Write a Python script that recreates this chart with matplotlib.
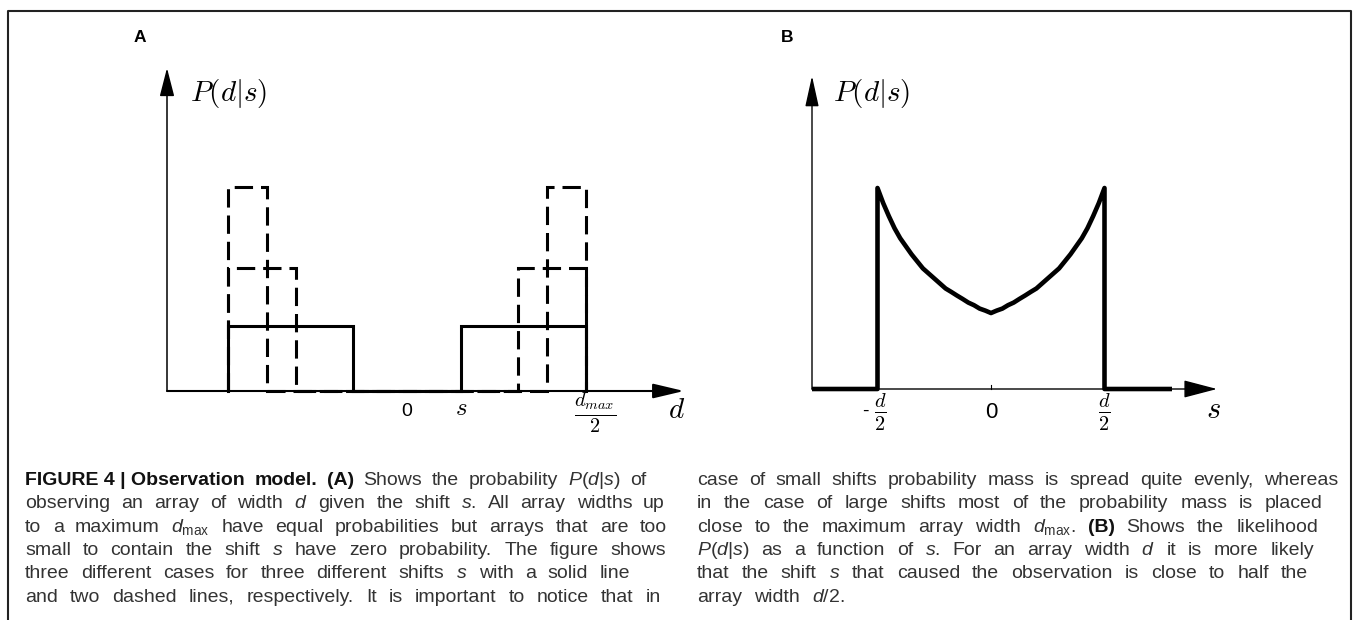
import matplotlib
matplotlib.use("Agg")
import matplotlib.pyplot as plt
from matplotlib.lines import Line2D

# ---------------- data ----------------
# Panel A: P(d|s) for three shifts (d axis in units of d_max/2)
shift_A = [0.30, 0.62, 0.78]
height_A = [0.325, 0.615, 1.02]
style_A = ["solid", "dashed", "dashed"]
tick_pos_A = [0.0, 0.30, 1.0]
tick_lab_A = ["0", r"$s$", r"$\frac{d_{max}}{2}$"]

# Panel B: likelihood P(d|s) as function of s (s in units of d/2)
s_B = [-1.0, -0.95, -0.9, -0.85, -0.8, -0.75, -0.7, -0.65, -0.6, -0.55, -0.5,
       -0.45, -0.4, -0.35, -0.3, -0.25, -0.2, -0.15, -0.1, -0.05, 0.0,
       0.05, 0.1, 0.15, 0.2, 0.25, 0.3, 0.35, 0.4, 0.45, 0.5,
       0.55, 0.6, 0.65, 0.7, 0.75, 0.8, 0.85, 0.9, 0.95, 1.0]
p_B = [1.00, 0.925, 0.86, 0.80, 0.75, 0.71, 0.67, 0.635, 0.60, 0.575, 0.55,
       0.525, 0.50, 0.483, 0.465, 0.448, 0.43, 0.417, 0.40, 0.39, 0.378,
       0.39, 0.40, 0.417, 0.43, 0.448, 0.465, 0.483, 0.50, 0.525, 0.55,
       0.575, 0.60, 0.635, 0.67, 0.71, 0.75, 0.80, 0.86, 0.925, 1.00]
tick_pos_B = [-1.0, 0.0, 1.0]
tick_lab_B = [r"$\frac{d}{2}$", "0", r"$\frac{d}{2}$"]

caption_left = [
    "**FIGURE~4~|~Observation **model. **(A) Shows the probability $P(d|s)$ of",
    "observing an array of width $d$ given the shift $s$. All array widths up",
    r"to a maximum $d_{\mathrm{max}}$ have equal probabilities but arrays that are too",
    "small to contain the shift $s$ have zero probability. The figure shows",
    "three different cases for three different shifts $s$ with a solid line",
    "and two dashed lines, respectively. It is important to notice that in",
]
caption_right = [
    "case of small shifts probability mass is spread quite evenly, whereas",
    "in the case of large shifts most of the probability mass is placed",
    r"close to the maximum array width $d_{\mathrm{max}}$. **(B) Shows the likelihood",
    "$P(d|s)$ as a function of $s$. For an array width $d$ it is more likely",
    "that the shift $s$ that caused the observation is close to half the",
    "array width $d/2$.",
]

# ---------------- figure ----------------
W, H, DPI = 1356, 620, 100
plt.rcParams["font.family"] = ["Liberation Sans", "DejaVu Sans"]
plt.rcParams["mathtext.fontset"] = "cm"
plt.rcParams["mathtext.rm"] = "Liberation Sans"
plt.rcParams["mathtext.it"] = "Liberation Sans:italic"
plt.rcParams["mathtext.bf"] = "Liberation Sans:bold"

fig = plt.figure(figsize=(W / DPI, H / DPI), dpi=DPI)
PX = 72.0 / DPI  # points per pixel


def make_axes(left, right, top, x0, xs, y0, ys):
    ax = fig.add_axes([left / W, (H - y0) / H, (right - left) / W, (y0 - top) / H])
    ax.set_xlim((left - x0) / xs, (right - x0) / xs)
    ax.set_ylim(0, (y0 - top) / ys)
    ax.axis("off")
    return ax


def arrow(ax, start, tip, lw, hl, hw):
    ax.annotate("", xy=tip, xytext=start, annotation_clip=False,
                arrowprops=dict(arrowstyle=f"-|>,head_length={hl},head_width={hw}",
                                lw=lw, color="black", shrinkA=0, shrinkB=0,
                                mutation_scale=10))


# ---- Panel A ----
A_x0, A_xs, A_y0, A_ys = 407, 179, 391, 200
axA = make_axes(167, 700, 55, A_x0, A_xs, A_y0, A_ys)
xlA = axA.get_xlim()[0]
arrow(axA, (xlA, 0), (xlA, (A_y0 - 68) / A_ys), 1.1, 1.75, 0.45)
arrow(axA, (xlA, 0), ((684 - A_x0) / A_xs, 0), 1.5, 1.9, 0.45)
for s, h, ls in zip(shift_A, height_A, style_A):
    xs = [-1, -1, -s, -s, s, s, 1, 1]
    ys = [0, h, h, 0, 0, h, h, 0]
    linestyle = "-" if ls == "solid" else (0, (6, 2.6))
    axA.plot(xs, ys, color="black", lw=2.2, linestyle=linestyle,
             solid_joinstyle="miter", dash_joinstyle="miter", clip_on=False, zorder=3)

axA.text(-1.215, (A_y0 - 93) / A_ys, r"$P(d|s)$", fontsize=21, ha="left",
         va="center", math_fontfamily="cm")
lab_off_A = [(0, -20), (0, -17), (9, -22)]
lab_size_A = [14, 18, 21]
for x, lab, off, fs in zip(tick_pos_A, tick_lab_A, lab_off_A, lab_size_A):
    axA.annotate(lab, xy=(x, 0), xytext=(off[0] * PX, off[1] * PX),
                 textcoords="offset points", ha="center", va="center",
                 fontsize=fs, math_fontfamily="cm", annotation_clip=False)
axA.annotate(r"$d$", xy=((677 - A_x0) / A_xs, 0), xytext=(0, -19 * PX),
             textcoords="offset points", ha="center", va="center",
             fontsize=21, math_fontfamily="cm", annotation_clip=False)

# ---- Panel B ----
B_x0, B_xs, B_y0, B_ys = 991, 113.5, 389, 201
axB = make_axes(812, 1240, 55, B_x0, B_xs, B_y0, B_ys)
xlB = axB.get_xlim()[0]
arrow(axB, (xlB, 0), (xlB, (B_y0 - 76) / B_ys), 1.0, 1.9, 0.42)
arrow(axB, (xlB, 0), ((1217 - B_x0) / B_xs, 0), 1.0, 2.1, 0.55)
axB.plot([0, 0], [0, 4 / B_ys], color="black", lw=0.8, clip_on=False)
xb_end = (1172 - B_x0) / B_xs
axB.plot([xlB, s_B[0]] + s_B + [s_B[-1], xb_end],
         [0, 0] + p_B + [0, 0], color="black", lw=3.3,
         solid_joinstyle="round", solid_capstyle="butt", clip_on=False, zorder=3)

axB.text((833 - B_x0) / B_xs, (B_y0 - 94) / B_ys, r"$P(d|s)$", fontsize=21,
         ha="left", va="center", math_fontfamily="cm")
lab_off_B = [(3, -23), (0, -24), (0, -23)]
lab_size_B = [21, 16, 21]
for x, lab, off, fs in zip(tick_pos_B, tick_lab_B, lab_off_B, lab_size_B):
    axB.annotate(lab, xy=(x, 0), xytext=(off[0] * PX, off[1] * PX),
                 textcoords="offset points", ha="center", va="center",
                 fontsize=fs, math_fontfamily="cm", annotation_clip=False)
axB.annotate("-", xy=(tick_pos_B[0], 0), xytext=(-12 * PX, -22 * PX),
             textcoords="offset points", ha="center", va="center",
             fontsize=14, annotation_clip=False)
axB.annotate(r"$s$", xy=((1213 - B_x0) / B_xs, 0), xytext=(0, -21 * PX),
             textcoords="offset points", ha="center", va="center",
             fontsize=22, math_fontfamily="cm", annotation_clip=False)

# ---- panel letters ----
fig.text(140 / W, 1 - 38 / H, "A", fontsize=12.5, fontweight="bold", ha="center", va="center")
fig.text(787 / W, 1 - 38 / H, "B", fontsize=12.5, fontweight="bold", ha="center", va="center")

# ---- frame ----
fig.add_artist(Line2D([8 / W, 8 / W, 1351 / W, 1351 / W],
                      [0, 1 - 11 / H, 1 - 11 / H, 0],
                      transform=fig.transFigure, color="#222222", lw=1.5))

# ---- caption (justified) ----
renderer = fig.canvas.get_renderer()
CAP_FS = 14


def draw_line(line, x0, x1, yb):
    arts = []
    for tok in line.split(" "):
        bold = tok.startswith("**")
        txt = tok.lstrip("*").replace("~", " ")
        t = fig.text(x0 / W, 1 - yb / H, txt, fontsize=CAP_FS,
                     fontweight="bold" if bold else "normal",
                     color="#111111" if bold else "#333333",
                     ha="left", va="baseline", math_fontfamily="custom")
        arts.append(t)
    widths = [a.get_window_extent(renderer).width for a in arts]
    if x1 is None or len(arts) < 2:
        gap = 12
    else:
        gap = max(4, (x1 - x0 - sum(widths)) / (len(arts) - 1))
    x = x0
    for a, w in zip(arts, widths):
        a.set_x(x / W)
        x += w + gap


left_edges = [646, 665, 667, 666, 630, 661]
right_edges = [1338, 1323, 1318, 1314, 1308, None]
for i, (ln, e) in enumerate(zip(caption_left, left_edges)):
    draw_line(ln, 25, e, 485 + 23.3 * i)
for i, (ln, e) in enumerate(zip(caption_right, right_edges)):
    draw_line(ln, 697, e, 485 + 23.3 * i)

fig.savefig("out.png", dpi=DPI)
